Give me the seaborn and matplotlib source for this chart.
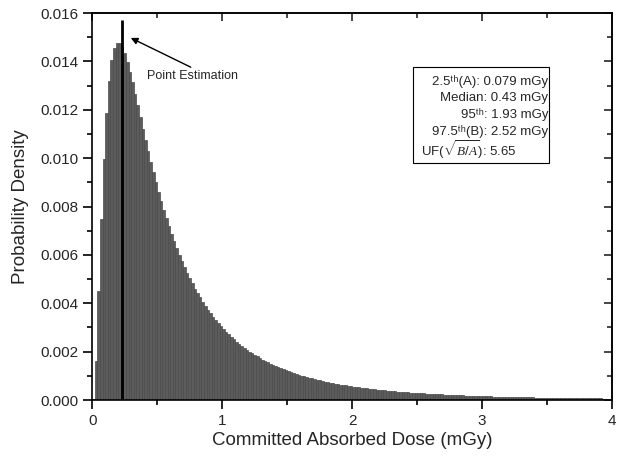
import pandas as pd
import matplotlib
matplotlib.use('Agg')
import matplotlib.pyplot as plt
from matplotlib.patches import Rectangle
from matplotlib.ticker import MultipleLocator, FormatStrFormatter
import seaborn as sns

# bar heights (probability per 0.01 mGy), bins of 0.02 mGy from 0 to 4
prob_density = [
    0.00006, 0.0016, 0.00451, 0.00748, 0.00997, 0.01185, 0.01317, 0.01404, 0.01454, 0.01475,
    0.01476, 0.0146, 0.01433, 0.01398, 0.01357, 0.01313, 0.01266, 0.01218, 0.0117, 0.01122,
    0.01075, 0.0103, 0.00985, 0.00942, 0.00901, 0.00861, 0.00823, 0.00786, 0.00751, 0.00718,
    0.00686, 0.00656, 0.00627, 0.006, 0.00574, 0.00549, 0.00525, 0.00503, 0.00482, 0.00461,
    0.00442, 0.00424, 0.00406, 0.00389, 0.00374, 0.00359, 0.00344, 0.0033, 0.00317, 0.00305,
    0.00293, 0.00282, 0.00271, 0.00261, 0.00251, 0.00241, 0.00232, 0.00224, 0.00216, 0.00208,
    0.002, 0.00193, 0.00186, 0.0018, 0.00173, 0.00167, 0.00161, 0.00156, 0.0015, 0.00145,
    0.0014, 0.00136, 0.00131, 0.00127, 0.00123, 0.00119, 0.00115, 0.00111, 0.00108, 0.00104,
    0.00101, 0.00098, 0.00095, 0.00092, 0.00089, 0.00086, 0.00084, 0.00081, 0.00079, 0.00076,
    0.00074, 0.00072, 0.0007, 0.00068, 0.00066, 0.00064, 0.00062, 0.0006, 0.00059, 0.00057,
    0.00055, 0.00054, 0.00052, 0.00051, 0.00049, 0.00048, 0.00047, 0.00046, 0.00044, 0.00043,
    0.00042, 0.00041, 0.0004, 0.00039, 0.00038, 0.00037, 0.00036, 0.00035, 0.00034, 0.00033,
    0.00032, 0.000315, 0.000307, 0.000299, 0.000292, 0.000285, 0.000278, 0.000271, 0.000264, 0.000258,
    0.000252, 0.000246, 0.00024, 0.000234, 0.000229, 0.000223, 0.000218, 0.000213, 0.000208, 0.000203,
    0.000199, 0.000194, 0.00019, 0.000185, 0.000181, 0.000177, 0.000173, 0.000169, 0.000166, 0.000162,
    0.000158, 0.000155, 0.000151, 0.000148, 0.000145, 0.000142, 0.000139, 0.000136, 0.000133, 0.00013,
    0.000127, 0.000125, 0.000122, 0.000119, 0.000117, 0.000114, 0.000112, 0.00011, 0.000108, 0.000105,
    0.000103, 0.000101, 0.000099, 0.000097, 0.000095, 0.000093, 0.000091, 0.00009, 0.000088, 0.000086,
    0.000084, 0.000083, 0.000081, 0.00008, 0.000078, 0.000077, 0.000075, 0.000074, 0.000072, 0.000071,
    0.000069, 0.000068, 0.000067, 0.000066, 0.000064, 0.000063, 0.000062, 0.000061, 0.00006, 0.000059,
]
bin_width = 0.02
dose_range = (0, 4)

x_ticks = [0, 1, 2, 3, 4]
y_ticks = [0.000, 0.002, 0.004, 0.006, 0.008, 0.010, 0.012, 0.014, 0.016]

point_estimate = 0.23
point_line_top = 0.0157

stats_lines = [
    '2.5\u1d57\u02b0(A): 0.079 mGy',
    'Median: 0.43 mGy',
    '95\u1d57\u02b0: 1.93 mGy',
    '97.5\u1d57\u02b0(B): 2.52 mGy',
]
uf_line = r'UF($\sqrt{B/A}$): 5.65'

sns.set_theme(style='ticks')
plt.rcParams['font.family'] = ['Liberation Sans', 'DejaVu Sans']
plt.rcParams['mathtext.fontset'] = 'custom'
plt.rcParams['mathtext.rm'] = 'Liberation Sans'
plt.rcParams['mathtext.it'] = 'Liberation Serif:italic'
plt.rcParams['axes.linewidth'] = 1.2

df = pd.DataFrame({
    'dose': [dose_range[0] + (i + 0.5) * bin_width for i in range(len(prob_density))],
    'prob': prob_density,
})

fig = plt.figure(figsize=(6.21, 4.61), dpi=100)
ax = fig.add_axes([0.1486, 0.1323, 0.8369, 0.8395])

sns.histplot(data=df, x='dose', weights='prob', binwidth=bin_width, binrange=dose_range,
             stat='count', color='#5c5c5c', edgecolor='#4a4a4a', linewidth=0.5, alpha=1, ax=ax)

# point estimation line + arrow
ax.vlines(point_estimate, 0, point_line_top, color='black', linewidth=2)
ax.annotate('', xy=(0.277, 0.01502), xytext=(0.777, 0.01371),
            arrowprops=dict(arrowstyle='-|>', color='black', lw=1, mutation_scale=10))
ax.text(0.418, 0.01339, 'Point Estimation', fontsize=9, ha='left', va='center')

ax.set_xlim(0, 4)
ax.set_ylim(0, 0.016)
ax.set_xticks(x_ticks)
ax.set_yticks(y_ticks)
ax.xaxis.set_minor_locator(MultipleLocator(0.5))
ax.yaxis.set_minor_locator(MultipleLocator(0.001))
ax.yaxis.set_major_formatter(FormatStrFormatter('%.3f'))
ax.tick_params(which='major', direction='out', length=6.5, width=1.2, labelsize=11, color='black')
ax.tick_params(which='minor', direction='out', length=3.5, width=1.2, color='black')
ax.set_xlabel('Committed Absorbed Dose (mGy)', fontsize=13.5, labelpad=3)
ax.set_ylabel('Probability Density', fontsize=13.5, labelpad=8)
for side in ['top', 'right', 'left', 'bottom']:
    ax.spines[side].set_visible(True)
    ax.spines[side].set_color('black')

# inward ticks on top and right
top = ax.secondary_xaxis('top')
top.set_xticks(x_ticks)
top.xaxis.set_minor_locator(MultipleLocator(0.5))
top.tick_params(which='major', direction='in', length=6, width=1.2, labeltop=False)
top.tick_params(which='minor', direction='in', length=3.5, width=1.2)
right = ax.secondary_yaxis('right')
right.set_yticks(y_ticks)
right.yaxis.set_minor_locator(MultipleLocator(0.001))
right.tick_params(which='major', direction='in', length=6, width=1.2, labelright=False)
right.tick_params(which='minor', direction='in', length=3.5, width=1.2)

# statistics box
ax.add_patch(Rectangle((0.6177, 0.6116), 0.2617, 0.2496, transform=ax.transAxes,
                       fill=False, edgecolor='black', linewidth=0.8))
line_y = [0.8235, 0.7805, 0.7375, 0.6945]
for txt, yy in zip(stats_lines, line_y):
    ax.text(0.8774, yy, txt, transform=ax.transAxes, fontsize=9.5, ha='right', va='center')
ax.text(0.632, 0.6480, uf_line, transform=ax.transAxes, fontsize=9.5, ha='left', va='center')

fig.savefig('out.png', dpi=100)
